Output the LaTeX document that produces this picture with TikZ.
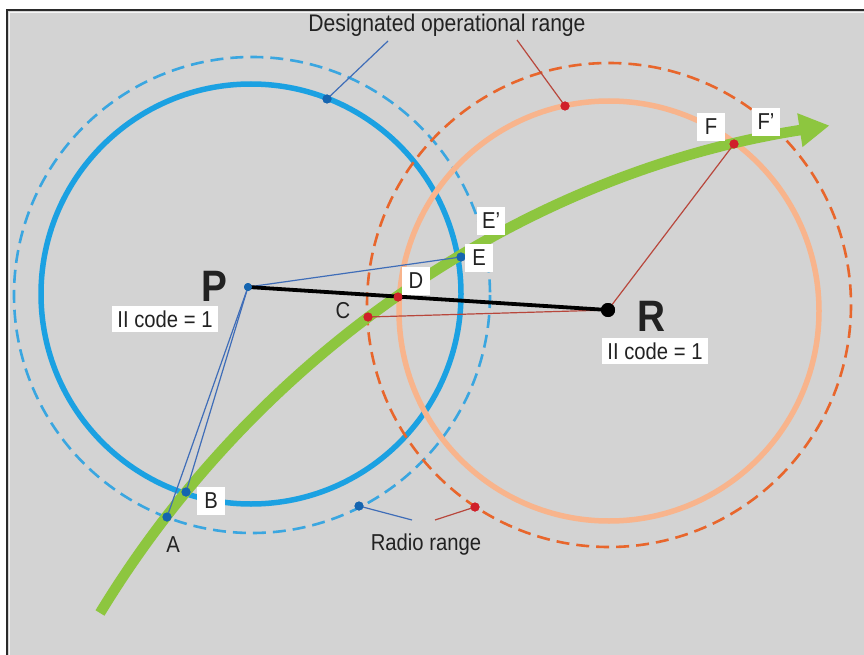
\documentclass[tikz,border=0pt]{standalone}
\usepackage{fontspec}
\setmainfont{Liberation Sans}[FakeStretch=0.88]
\usetikzlibrary{arrows.meta}

\definecolor{bggray}{HTML}{D3D3D3}
\definecolor{framedark}{HTML}{2A2A2A}
\definecolor{opblue}{HTML}{1BA1E2}
\definecolor{radblue}{HTML}{3AA6E0}
\definecolor{oppeach}{HTML}{F8B48C}
\definecolor{radorange}{HTML}{E8662C}
\definecolor{trackgreen}{HTML}{8DC63F}
\definecolor{thinblue}{HTML}{3F6DB8}
\definecolor{thinred}{HTML}{B8473C}
\definecolor{dotblue}{HTML}{1565B0}
\definecolor{dotred}{HTML}{D0202A}
\definecolor{txt}{HTML}{222222}

\begin{document}
\begin{tikzpicture}[x=1pt,y=-1pt,
  lab/.style={text=txt,font=\fontsize{23}{26}\selectfont,inner sep=0pt},
  boxlab/.style={lab,fill=white,minimum width=28pt,minimum height=28pt},
  codebox/.style={lab,fill=white,inner xsep=5pt,minimum height=26pt},
  stn/.style={text=txt,font=\fontsize{44}{48}\selectfont\bfseries,inner sep=0pt},
  opcircle/.style={line width=5.5pt},
  radcircle/.style={line width=2.6pt,dash pattern=on 13pt off 7pt},
  bthin/.style={thinblue,line width=1.2pt},
  rthin/.style={thinred,line width=1.2pt},
  bdot/.style={circle,fill=dotblue,inner sep=0pt,minimum size=9pt},
  rdot/.style={circle,fill=dotred,inner sep=0pt,minimum size=9pt},
  trackline/.style={trackgreen,line width=10.5pt,-{Triangle[length=30pt,width=32pt]}}
]
\useasboundingbox (0,0) rectangle (864,655);

% sheet and frame
\fill[white] (0,0) rectangle (864,655);
\fill[bggray] (7,10) rectangle (864,655);
\draw[framedark,line width=1.6pt] (7,655) -- (7,10) -- (864,10);
\draw[white!80!bggray,line width=0.8pt] (9.6,655) -- (9.6,12.6) -- (864,12.6);

% ranges of station P
\draw[radblue,radcircle] (252,295) circle[radius=238];
\draw[opblue,opcircle] (251,294) circle[radius=210];
% ranges of station R
\draw[radorange,radcircle] (609,305) circle[radius=242];
\draw[oppeach,opcircle] (609,311) circle[radius=210];

% flight track: circular arc about (989,1153)
\coordinate (trackStart) at (100,613);
\draw[trackline] (trackStart) arc[start angle=148.7, end angle=98.8, radius=1040pt];

% stations and points
\node[bdot,minimum size=8pt] (P) at (248,287) {};
\node[circle,fill=black,inner sep=0pt,minimum size=14pt] (R) at (608,310) {};
\node[bdot] (A) at (167,517) {};
\node[bdot] (B) at (186,492) {};
\node[bdot] (E) at (461,257) {};
\node[rdot] (C) at (368,317) {};
\node[rdot] (D) at (398,297) {};
\node[rdot] (F) at (734,144) {};
\node[bdot] (opB) at (327,99) {};
\node[rdot] (opR) at (565,106) {};
\node[bdot] (radB) at (359,506) {};
\node[rdot] (radR) at (475,507) {};

% sight lines
\draw[bthin] (P.center) -- (A.center);
\draw[bthin] (P.center) -- (B.center);
\draw[bthin] (P.center) -- (E.center);
\draw[rthin] (R.center) -- (C.center);
\draw[rthin] (R.center) -- (F.center);
\draw[black,line width=3.8pt] (P.center) -- (R.center);

% leader lines
\coordinate (opBend) at (388,41);
\coordinate (opRend) at (517,40);
\coordinate (radBend) at (412,520);
\coordinate (radRend) at (435,520);
\draw[bthin] (opB.center) -- (opBend);
\draw[rthin] (opR.center) -- (opRend);
\draw[bthin] (radB.center) -- (radBend);
\draw[rthin] (radR.center) -- (radRend);

% dots drawn again above the lines
\fill[dotblue] (P.center) circle[radius=4pt];
\fill[black] (R.center) circle[radius=7pt];
\foreach \n in {A,B,E,opB,radB} \fill[dotblue] (\n.center) circle[radius=4.5pt];
\foreach \n in {C,D,F,opR,radR} \fill[dotred] (\n.center) circle[radius=4.5pt];

% texts
\node[lab,font=\fontsize{24}{27}\selectfont] (desig) at (447,25) {Designated operational range};
\node[lab] (radio) at (426,545) {Radio range};
\node[stn] (Plab) at (214,286) {P};
\node[stn] (Rlab) at (651,316) {R};
\node[codebox] (Pcode) at (165,319) {II code = 1};
\node[codebox] (Rcode) at (655,351) {II code = 1};
\node[lab] (Alab) at (173,545) {A};
\node[boxlab] (Blab) at (211,501) {B};
\node[lab] (Clab) at (343,311) {C};
\node[boxlab] (Dlab) at (416,281) {D};
\node[boxlab] (Elab) at (479,258) {E};
\node[boxlab] (Eplab) at (491,221) {E’};
\node[boxlab] (Flab) at (711,127) {F};
\node[boxlab] (Fplab) at (766,122) {F’};
\end{tikzpicture}
\end{document}
